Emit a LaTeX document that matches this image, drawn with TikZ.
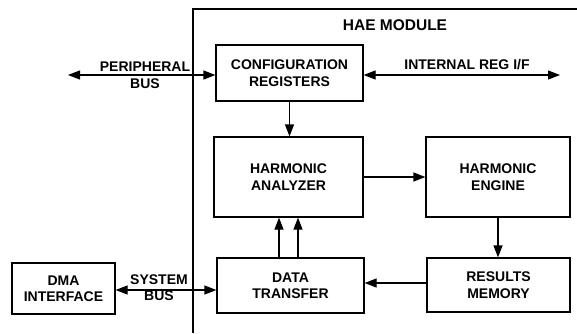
\documentclass[tikz,border=0pt]{standalone}
\usepackage{fontspec}
\setmainfont{Liberation Sans}
\usetikzlibrary{arrows.meta}

\begin{document}
\begin{tikzpicture}[x=1pt, y=-1pt]

\tikzset{block/.style = {shape=rectangle, draw, line width=1.2pt, align=center, inner sep=0pt,
  font=\fontsize{14}{16.5}\selectfont\bfseries}}
\tikzset{tag/.style = {align=center, inner sep=0pt, font=\fontsize{14}{16.5}\selectfont\bfseries}}
\tikzset{flow/.style = {line width=1.2pt, -{Triangle[length=12pt,width=9pt]}}}
\tikzset{bus/.style = {line width=1.2pt, {Triangle[length=12pt,width=9pt]}-{Triangle[length=12pt,width=9pt]}}}

\useasboundingbox (0,0) rectangle (577,333);

% module frame
\draw[line width=1.2pt] (193,333) -- (193,9) -- (577,9);
\node[tag, font=\fontsize{15.5}{18}\selectfont\bfseries] (hae) at (395,25) {HAE MODULE};

% blocks
\node[block, minimum width=147, minimum height=56] (cfg)  at (289.5,73)  {CONFIGURATION\\REGISTERS};
\node[block, minimum width=149, minimum height=80] (ana)  at (288.5,177) {HARMONIC\\ANALYZER};
\node[block, minimum width=144, minimum height=80] (eng)  at (498,177)   {HARMONIC\\ENGINE};
\node[block, minimum width=147, minimum height=55] (xfer) at (290.5,285.5) {DATA\\TRANSFER};
\node[block, minimum width=143, minimum height=54] (mem)  at (498.5,285) {RESULTS\\MEMORY};
\node[block, minimum width=103, minimum height=51] (dma)  at (63.5,288.5) {DMA\\INTERFACE};

% bus ends
\coordinate (pb) at (68,75);
\coordinate (ir) at (560,75);

% connectors
\draw[bus] (pb) -- (pb -| cfg.west);
\draw[bus] (ir -| cfg.east) -- (ir);
\draw[flow] (cfg.south) -- (cfg.south |- ana.north);
\draw[flow] (ana) -- (eng);
\draw[flow] (eng.south) -- (eng.south |- mem.north);
\draw[flow] ([yshift=2pt]mem.west) -- ([yshift=2pt]mem.west -| xfer.east);
\draw[flow] ([xshift=-11.5pt]xfer.north) -- ([xshift=-11.5pt]xfer.north |- ana.south);
\draw[flow] ([xshift=7.5pt]xfer.north) -- ([xshift=7.5pt]xfer.north |- ana.south);
\draw[bus] ([yshift=-1.5pt]dma.east) -- ([yshift=-1.5pt]dma.east -| xfer.west);

% labels
\node[tag] (pbl) at (145,75) {PERIPHERAL\\BUS};
\node[tag] (irl) at (467,65) {INTERNAL REG I/F};
\node[tag] (sbl) at (159,287.5) {SYSTEM\\BUS};

\end{tikzpicture}
\end{document}
